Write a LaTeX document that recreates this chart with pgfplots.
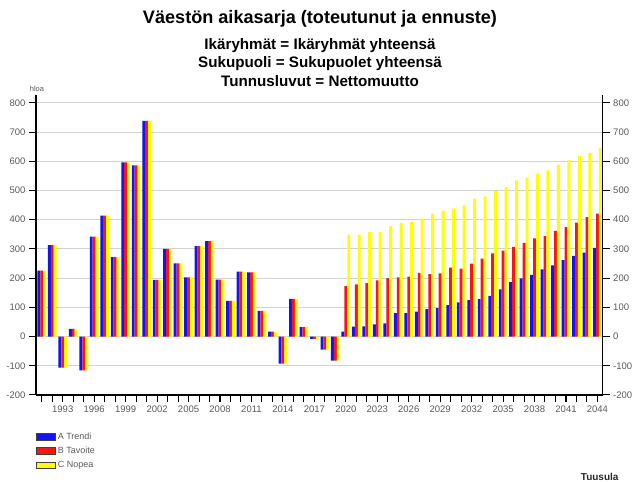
\documentclass[border=0pt]{standalone}
\usepackage{fontspec}
\setmainfont{Liberation Sans}
\usepackage{pgfplots}
\usepackage{pgfplotstable}
\pgfplotsset{compat=1.18}

\definecolor{barblue}{RGB}{20,20,240}
\definecolor{barred}{RGB}{250,20,20}
\definecolor{baryellow}{RGB}{255,255,0}
\definecolor{ticktext}{RGB}{90,90,90}

\pgfplotstableread{
year A B C
1991 226 226 226
1992 313 313 313
1993 -106 -106 -106
1994 26 26 26
1995 -116 -116 -116
1996 342 342 342
1997 414 414 414
1998 272 272 272
1999 596 596 596
2000 586 586 586
2001 738 738 738
2002 194 194 194
2003 300 300 300
2004 251 251 251
2005 203 203 203
2006 310 310 310
2007 327 327 327
2008 195 195 195
2009 122 122 122
2010 222 222 222
2011 220 220 220
2012 88 88 88
2013 17 17 17
2014 -93 -93 -93
2015 129 129 129
2016 32 32 32
2017 -8 -8 -8
2018 -45 -45 -45
2019 -82 -82 -82
2020 17 173 349
2021 34 179 349
2022 35 183 358
2023 42 192 358
2024 45 200 378
2025 80 203 389
2026 80 205 392
2027 85 218 404
2028 94 214 421
2029 97 216 430
2030 108 236 438
2031 117 233 449
2032 125 250 472
2033 128 267 480
2034 139 285 498
2035 162 294 512
2036 186 307 535
2037 199 321 544
2038 211 336 558
2039 230 344 569
2040 244 362 589
2041 262 375 605
2042 276 390 619
2043 287 409 629
2044 304 421 646
}\data

\begin{document}
\begin{tikzpicture}
\path[use as bounding box] (0bp,0bp) rectangle (634bp,482bp);

\node[font=\bfseries\fontsize{18.1bp}{20bp}\selectfont] at (320bp,463bp) {Väestön aikasarja (toteutunut ja ennuste)};
\node[font=\bfseries\fontsize{15.2bp}{17bp}\selectfont] at (320bp,436.5bp) {Ikäryhmät = Ikäryhmät yhteensä};
\node[font=\bfseries\fontsize{15.2bp}{17bp}\selectfont] at (320bp,418.5bp) {Sukupuoli = Sukupuolet yhteensä};
\node[font=\bfseries\fontsize{15.2bp}{17bp}\selectfont] at (320bp,401bp) {Tunnusluvut = Nettomuutto};
\node[font=\fontsize{7.5bp}{8bp}\selectfont, text=ticktext] at (37bp,393bp) {hloa};
\node[font=\bfseries\fontsize{10bp}{11bp}\selectfont, anchor=east, text=black!85] at (622bp,5bp) {Tuusula};

\begin{axis}[
  at={(36bp,87bp)}, anchor=south west, scale only axis,
  width=566.7bp, height=300bp,
  xmin=1990.45, xmax=2044.5, ymin=-200, ymax=827,
  ybar=0pt, bar width=2.9bp,
  xtick={1993,1996,...,2044}, minor xtick={1991,...,2044},
  ytick={-200,-100,...,800},
  xticklabel style={/pgf/number format/1000 sep={}},
  tick align=outside, major tick length=7bp, minor tick length=7bp,
  every tick/.style={black, line width=1bp},
  ymajorgrids, grid style={gray!35, line width=0.9bp},
  axis x line*=bottom, axis y line*=left,
  axis line style={-, line width=1.3bp},
  tick label style={font=\fontsize{9.5bp}{11bp}\selectfont, text=ticktext},
  /pgf/number format/assume math mode=true,
  legend image code/.code={\draw[#1, draw=gray!50!black, line width=0.6bp] (0bp,-3.3bp) rectangle (19bp,3.3bp);},
  legend style={at={(0,0)}, anchor=north west, xshift=0bp, yshift=-35.5bp, draw=none, fill=none,
    font=\fontsize{9bp}{10bp}\selectfont, text=ticktext, inner sep=0pt, row sep=2.3bp},
  legend cell align=left,
]
\addplot[fill=barblue, draw=none] table[x=year,y=A] {\data};
\addlegendentry{A Trendi}
\addplot[fill=barred, draw=none] table[x=year,y=B] {\data};
\addlegendentry{B Tavoite}
\addplot[fill=baryellow, draw=none] table[x=year,y=C] {\data};
\addlegendentry{C Nopea}
\end{axis}

\begin{axis}[
  at={(36bp,87bp)}, anchor=south west, scale only axis,
  width=566.7bp, height=300bp,
  xmin=1990.45, xmax=2044.5, ymin=-200, ymax=827,
  axis x line=none, axis y line*=right,
  ytick={-200,-100,...,800},
  tick align=outside, major tick length=7bp,
  every tick/.style={black, line width=1bp},
  axis line style={-, line width=1.3bp},
  tick label style={font=\fontsize{9.5bp}{11bp}\selectfont, text=ticktext},
  /pgf/number format/assume math mode=true,
]
\end{axis}
\end{tikzpicture}
\end{document}
